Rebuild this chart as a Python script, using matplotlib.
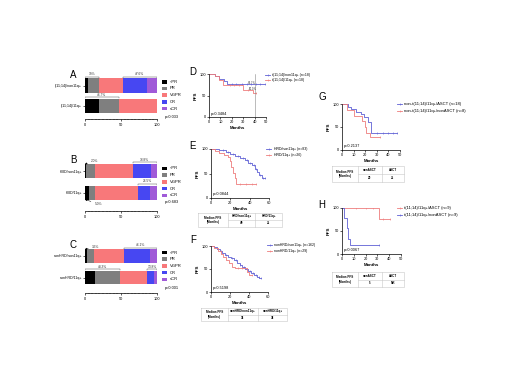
import matplotlib
matplotlib.use('Agg')
import matplotlib.pyplot as plt
from matplotlib.patches import Rectangle
from matplotlib.lines import Line2D
import numpy as np

plt.rcParams['font.family'] = ['Liberation Sans', 'DejaVu Sans']
plt.rcParams['axes.linewidth'] = 0.5

W, H = 520, 368
fig = plt.figure(figsize=(W / 100, H / 100), dpi=100)

# ---------------- data: response bars ----------------
resp_labels = ['<PR', 'PR', 'VGPR', 'CR', 'sCR']
resp_colors = ['#000000', '#7F7F7F', '#F8787A', '#4747F2', '#A05AD8']

A_groups = ['t(11;14)/non11q+', 't(11;14)/11q+']
A_values = [[4.8, 14.2, 33.4, 33.3, 14.3],
            [20.0, 26.7, 53.3, 0.0, 0.0]]
A_pvalue = 'p=0.033'
A_notes = [(0, 'above', 0, 1, '19%'), (0, 'above', 3, 4, '47.6%'), (1, 'above', 0, 1, '46.7%')]

B_groups = ['HRD/non11q+', 'HRD/11q+']
B_values = [[2.0, 12.0, 52.2, 25.0, 8.8],
            [5.0, 8.5, 60.0, 17.0, 9.5]]
B_pvalue = 'p=0.683'
B_notes = [(0, 'arrow_above', 0, 0, '2.0%'), (0, 'above', 3, 4, '33.8%'),
           (1, 'above', 3, 4, '26.5%'), (1, 'arrow_below', 0, 0, '5.0%')]

C_groups = ['nonHRD/non11q+', 'nonHRD/11q+']
C_values = [[3.3, 8.7, 41.9, 36.0, 10.1],
            [13.8, 34.5, 37.9, 10.3, 3.5]]
C_pvalue = 'p<0.001'
C_notes = [(0, 'arrow_above', 0, 0, '3.3%'), (0, 'above', 3, 4, '46.1%'),
           (1, 'above', 0, 1, '48.3%'), (1, 'above', 3, 4, '13.8%')]

# ---------------- data: Kaplan-Meier curves ----------------
D_labels = ['t(11;14)/non11q+ (n=18)', 't(11;14)/11q+ (n=18)']
D_a_t = [0, 5, 9, 13, 16]
D_a_s = [100, 94.4, 88.9, 83.3, 77.8]
D_a_end = 49
D_a_cens = [20, 24, 29, 33, 37, 41, 45, 49]
D_b_t = [0, 5, 9, 12, 30, 39]
D_b_s = [100, 94.4, 86.1, 74.0, 63.4, 55.5]
D_b_end = 41
D_b_cens = [18, 22, 26, 34, 41]
D_pvalue = 'p=0.3484'
D_marks = [(34, 79, '81.7%'), (35, 66, '60.0%')]

E_labels = ['HRD/non11q+ (n=83)', 'HRD/11q+ (n=26)']
E_a_t = [0, 8, 15, 20, 25, 30, 35, 38, 42, 45, 48, 50, 53]
E_a_s = [100, 97, 94, 90, 86, 82, 77, 72, 67, 60, 53, 47, 40]
E_a_end = 56
E_a_cens = [12, 18, 23, 28, 33, 37, 40, 44, 47, 51, 54, 56]
E_b_t = [0, 4, 8, 13, 18, 20, 21, 23, 24.5, 25.5]
E_b_s = [100, 96, 92, 88, 84, 76, 64, 52, 40, 28]
E_b_end = 47
E_b_cens = [30, 36, 42, 47]
E_pvalue = 'p=0.0844'
E_table = ['HRD/non11q+', 'HRD/11q+']
E_medians = ['49', '25']

F_labels = ['nonHRD/non11q+ (n=162)', 'nonHRD/11q+ (n=29)']
F_a_t = [0, 3, 6, 9, 12, 15, 18, 21, 24, 27, 30, 33, 36, 39, 42, 45, 48, 51]
F_a_s = [100, 97, 93, 89, 85, 81, 77, 73, 69, 64, 59, 55, 50, 45, 41, 37, 33, 30]
F_a_end = 53
F_a_cens = [10, 16, 22, 26, 31, 35, 38, 41, 44, 47, 50, 53]
F_b_t = [0, 3, 7, 10, 13, 16, 19, 22, 25, 38, 40]
F_b_s = [100, 96.6, 89.7, 82.8, 75.9, 69.0, 62.1, 55.2, 51.7, 44.0, 37.0]
F_b_end = 43
F_b_cens = [28, 33, 43]
F_pvalue = 'p=0.5198'
F_table = ['nonHRD/non11q+', 'nonHRD/11q+']
F_medians = ['36', '38']

G_labels = ['non-t(11;14)/11q+/ASCT (n=18)', 'non-t(11;14)/11q+/nonASCT (n=8)']
G_a_t = [0, 5, 8, 12, 16, 19, 22, 25]
G_a_s = [100, 94.4, 88.9, 83.3, 77.8, 72.2, 61.1, 37.0]
G_a_end = 47
G_a_cens = [30, 35, 40, 44, 47]
G_b_t = [0, 4, 10, 17, 20, 21, 24]
G_b_s = [100, 87.5, 75.0, 62.5, 50.0, 37.5, 28.0]
G_b_end = 33
G_b_cens = [33]
G_pvalue = 'p=0.2137'
G_table = ['nonASCT', 'ASCT']
G_medians = ['20', '25']

H_labels = ['t(11;14)/11q+/ASCT (n=9)', 't(11;14)/11q+/nonASCT (n=9)']
H_a_t = [0, 31]
H_a_s = [100, 77]
H_a_end = 41
H_a_cens = [12, 20, 26, 35, 41]
H_b_t = [0, 2, 4, 5, 7]
H_b_s = [100, 78, 56, 33, 19]
H_b_end = 31
H_b_cens = [31]
H_pvalue = 'p=0.0067'
H_table = ['nonASCT', 'ASCT']
H_medians = ['5', 'NR']

KM_BLUE = '#5E5FD4'
KM_RED = '#EE7C7C'

# ---------------- helpers ----------------
def px_axes(x0, y0, x1, y1):
    return fig.add_axes([x0 / W, 1 - y1 / H, (x1 - x0) / W, (y1 - y0) / H])


def ftext(x, y, s, **kw):
    return fig.text(x / W, 1 - y / H, s, **kw)


def fline(xs, ys, **kw):
    fig.add_artist(Line2D([x / W for x in xs], [1 - y / H for y in ys],
                          transform=fig.transFigure, **kw))


def frect(x, y, w, h, color):
    fig.add_artist(Rectangle((x / W, 1 - (y + h) / H), w / W, h / H,
                             transform=fig.transFigure, facecolor=color, edgecolor='none'))


def bar_panel(groups, values, notes, pvalue, letter, L):
    gap = L['c2'] - L['c1']
    bottom = (L['axis'] - L['c1']) / gap
    ax = px_axes(L['x0'], L['c1'] - 0.5 * gap, L['x1'], L['axis'])
    ax.set_xlim(0, 100)
    ax.set_ylim(bottom, -0.5)
    bh = L['bh'] / gap
    vals = np.array(values, dtype=float)
    ypos = np.arange(len(groups))
    lefts = np.zeros(len(groups))
    for k in range(len(resp_labels)):
        ax.barh(ypos, vals[:, k], left=lefts, height=bh, color=resp_colors[k],
                edgecolor='none')
        lefts += vals[:, k]
    cum = np.hstack([np.zeros((len(groups), 1)), np.cumsum(vals, axis=1)])
    for (i, kind, k0, k1, txt) in notes:
        x0, x1 = cum[i, k0], cum[i, k1 + 1]
        top = i - bh / 2
        if kind == 'above':
            yl = top - 0.07
            ax.plot([x0, x0, x1, x1], [yl + 0.04, yl, yl, yl + 0.04], color='#555555', lw=0.35)
            ax.text((x0 + x1) / 2, yl - 0.03, txt, ha='center', va='bottom', fontsize=2.3,
                    color='#333333')
        elif kind == 'arrow_above':
            ax.annotate(txt, xy=(x0, top), xytext=(x1 + 6, top - 0.12), fontsize=2.3,
                        va='center', color='#333333',
                        arrowprops=dict(arrowstyle='-|>', lw=0.35, color='black',
                                        mutation_scale=2.5, shrinkA=0.5, shrinkB=0))
        else:
            bot = i + bh / 2
            ax.annotate(txt, xy=(x0, bot), xytext=(x1 + 8, bot + 0.2), fontsize=2.3,
                        va='center', color='#333333',
                        arrowprops=dict(arrowstyle='-|>', lw=0.35, color='black',
                                        mutation_scale=2.5, shrinkA=0.5, shrinkB=0))
    for s in ['top', 'right', 'left']:
        ax.spines[s].set_visible(False)
    ax.spines['bottom'].set_linewidth(0.5)
    ax.set_yticks(ypos)
    ax.set_yticklabels(groups, fontsize=2.6)
    ax.set_xticks([0, 50, 100])
    ax.set_xticks(np.arange(0, 101, 5), minor=True)
    ax.tick_params(axis='x', which='major', length=1.6, width=0.45, labelsize=2.8, pad=1)
    ax.tick_params(axis='x', which='minor', length=0.9, width=0.35)
    ax.tick_params(axis='y', length=1.5, width=0.45, pad=0.8)
    ftext(L['letter'][0], L['letter'][1], letter, fontsize=7, ha='center', va='center')
    for k, lab in enumerate(resp_labels):
        yk = L['leg'] + k * 6.7
        frect(162, yk - 1.8, 5.0, 3.6, resp_colors[k])
        ftext(170, yk, lab, fontsize=3, va='center', ha='left')
    ftext(165, L['p'], pvalue, fontsize=2.8, va='center', ha='left')


def surv_at(t, s, c):
    idx = np.searchsorted(np.array(t, dtype=float), c, side='right') - 1
    return s[idx]


def km_panel(curves, labels, pvalue, letter, L):
    ax = px_axes(L['x0'], L['y100'], L['x1'], L['y0'])
    ax.set_xlim(0, L['xmax'])
    ax.set_ylim(0, 100)
    for (t, s, end, cens, col) in curves:
        ax.step(list(t) + [end], list(s) + [s[-1]], where='post', color=col, lw=0.6)
        ax.plot(cens, [surv_at(t, s, c) for c in cens], ls='none', marker='|',
                ms=1.8, mew=0.4, color=col)
    for s in ['top', 'right']:
        ax.spines[s].set_visible(False)
    ax.set_xticks(L['xticks'])
    ax.set_yticks([0, 50, 100])
    ax.tick_params(length=1.5, width=0.45, labelsize=2.8, pad=0.8)
    ax.set_xlabel('Months', fontsize=3.2, fontweight='bold', labelpad=1)
    ax.set_ylabel('PFS', fontsize=3.2, fontweight='bold', labelpad=1)
    ax.text(0.03, 0.08, pvalue, transform=ax.transAxes, fontsize=2.8, ha='left', va='center')
    ftext(L['letter'][0], L['letter'][1], letter, fontsize=7, ha='center', va='center')
    cols = [c[4] for c in curves]
    for k, lab in enumerate(labels):
        yk = L['leg_rows'][k]
        fline([L['leg_x'], L['leg_x'] + 5], [yk, yk], color=cols[k], lw=0.6)
        fline([L['leg_x'] + 2.5], [yk], color=cols[k], ls='none', marker='|', ms=1.8, mew=0.4)
        ftext(L['leg_x'] + 7.5, yk, lab, fontsize=L['leg_fs'], va='center', ha='left')
    return ax


def pfs_table(edges, y0, y1, heads, meds):
    ym = (y0 + y1) / 2
    gc = '#C8C8C8'
    fline([edges[0], edges[-1], edges[-1], edges[0], edges[0]], [y0, y0, y1, y1, y0], color=gc, lw=0.4)
    for e in edges[1:-1]:
        fline([e, e], [y0, y1], color=gc, lw=0.4)
    fline([edges[1], edges[-1]], [ym, ym], color=gc, lw=0.4)
    cx0 = (edges[0] + edges[1]) / 2
    ftext(cx0, ym - 2.2, 'Median PFS', fontsize=2.2, fontweight='bold', ha='center', va='center')
    ftext(cx0, ym + 2.4, '(Months)', fontsize=2.2, fontweight='bold', ha='center', va='center')
    for j in range(2):
        cx = (edges[j + 1] + edges[j + 2]) / 2
        ftext(cx, (y0 + ym) / 2, heads[j], fontsize=2.2, fontweight='bold', ha='center', va='center')
        ftext(cx, (ym + y1) / 2, meds[j], fontsize=2.2, fontweight='bold', ha='center', va='center')


# ---------------- bar panels ----------------
bar_panel(A_groups, A_values, A_notes, A_pvalue, 'A',
          dict(x0=85, x1=157, c1=85.5, c2=106, axis=119, bh=14.5, letter=(73, 75), leg=81.7, p=117))
bar_panel(B_groups, B_values, B_notes, B_pvalue, 'B',
          dict(x0=85, x1=157, c1=171, c2=192.5, axis=211, bh=14, letter=(73, 160), leg=168.5, p=202))
bar_panel(C_groups, C_values, C_notes, C_pvalue, 'C',
          dict(x0=85, x1=157, c1=256, c2=277.5, axis=293, bh=13.5, letter=(73, 245), leg=252.5, p=288))

# ---------------- KM panels ----------------
axD = km_panel([(D_a_t, D_a_s, D_a_end, D_a_cens, KM_BLUE), (D_b_t, D_b_s, D_b_end, D_b_cens, KM_RED)],
               D_labels, D_pvalue, 'D',
               dict(x0=209, x1=266, y100=74, y0=117, xmax=50, xticks=[0, 10, 20, 30, 40, 50],
                    letter=(193, 72), leg_x=265, leg_rows=[75, 80], leg_fs=2.5))
axD.axvline(40, color='#888888', lw=0.4)
for (mx, my, mt) in D_marks:
    axD.text(mx, my, mt, fontsize=2.0, ha='left', va='center', color='#333333')

km_panel([(E_a_t, E_a_s, E_a_end, E_a_cens, KM_BLUE), (E_b_t, E_b_s, E_b_end, E_b_cens, KM_RED)],
         E_labels, E_pvalue, 'E',
         dict(x0=211, x1=269, y100=149, y0=198, xmax=60, xticks=[0, 20, 40, 60],
              letter=(193, 146), leg_x=266, leg_rows=[149, 155], leg_fs=2.5))
pfs_table([198, 228, 255, 282], 213, 227, E_table, E_medians)

km_panel([(F_a_t, F_a_s, F_a_end, F_a_cens, KM_BLUE), (F_b_t, F_b_s, F_b_end, F_b_cens, KM_RED)],
         F_labels, F_pvalue, 'F',
         dict(x0=211, x1=268, y100=246, y0=292, xmax=60, xticks=[0, 20, 40, 60],
              letter=(193, 240), leg_x=267, leg_rows=[245, 251], leg_fs=2.5))
pfs_table([201, 228, 258, 287], 308, 321, F_table, F_medians)

km_panel([(G_a_t, G_a_s, G_a_end, G_a_cens, KM_BLUE), (G_b_t, G_b_s, G_b_end, G_b_cens, KM_RED)],
         G_labels, G_pvalue, 'G',
         dict(x0=342, x1=400, y100=104, y0=150, xmax=50, xticks=[0, 10, 20, 30, 40, 50],
              letter=(322, 97), leg_x=397, leg_rows=[104, 111], leg_fs=3.0))
pfs_table([332, 358, 382, 404], 166, 182, G_table, G_medians)

km_panel([(H_a_t, H_a_s, H_a_end, H_a_cens, KM_RED), (H_b_t, H_b_s, H_b_end, H_b_cens, KM_BLUE)],
         H_labels, H_pvalue, 'H',
         dict(x0=342, x1=401, y100=208, y0=254, xmax=50, xticks=[0, 10, 20, 30, 40, 50],
              letter=(322, 205), leg_x=397, leg_rows=[208, 215], leg_fs=3.0))
pfs_table([332, 358, 382, 404], 272, 287, H_table, H_medians)

fig.savefig('out.png', dpi=100)
